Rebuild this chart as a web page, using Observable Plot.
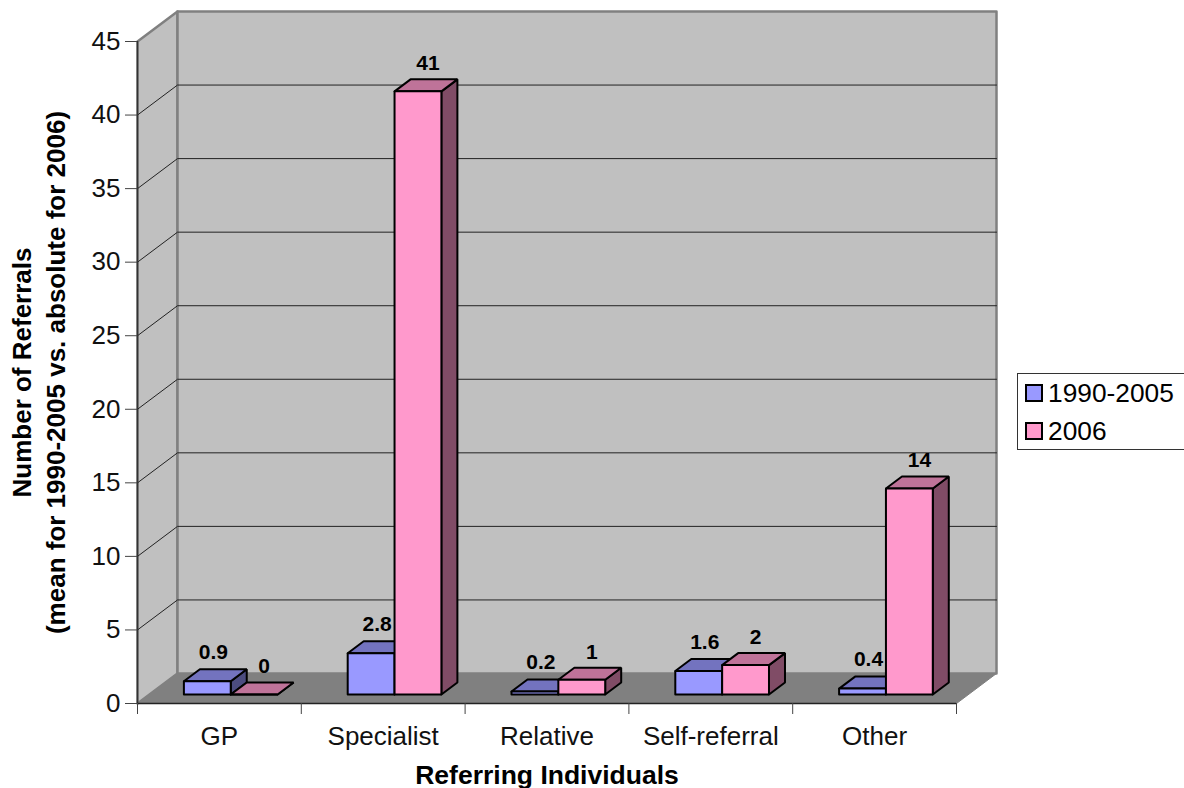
<!DOCTYPE html>
<html>
<head>
<meta charset="utf-8">
<script src="https://cdn.jsdelivr.net/npm/d3@7"></script>
<script src="https://cdn.jsdelivr.net/npm/@observablehq/plot@0.6"></script>
<style>
  html, body { margin: 0; background: #fff; }
  #chart { position: relative; width: 1184px; height: 788px; font-family: "Liberation Sans", Arial, sans-serif; overflow: hidden; }
  #chart svg { display: block; overflow: visible; }
  #legend { position: absolute; left: 1017px; top: 373px; width: 172px; height: 75px; border: 1px solid #333; background: #fff; box-sizing: content-box; font-size: 26.3px; color: #000; }
  #legend .row { position: absolute; left: 7px; display: flex; align-items: center; height: 20px; line-height: 20px; }
  #legend .sw { width: 14px; height: 14px; border: 2px solid #000; margin-right: 5px; }
</style>
</head>
<body>
<div id="chart"></div>
<script>
// Referrals by referring individual
const categories = ["GP", "Specialist", "Relative", "Self-referral", "Other"];
const seriesNames = ["1990-2005", "2006"];
const meanReferrals = [0.9, 2.8, 0.2, 1.6, 0.4];
const referrals2006 = [0, 41, 1, 2, 14];
const yTicks = [0, 5, 10, 15, 20, 25, 30, 35, 40, 45];
const seriesValues = [meanReferrals, referrals2006];

// Face colours of each series: front, top, side
const palette = [
  {front: "#9999FF", top: "#7373BF", side: "#4C4C80"},
  {front: "#FF99CC", top: "#BF7399", side: "#804C66"}
];

// Oblique projection: depth d in [0, 1] shifts a point towards the back wall,
// expressed in category units (x) and value units (y).
const depthX = 40 / 163.8;
const depthY = 30 / 14.71;
const project = (u, v, d) => ({x: u + d * depthX, y: v + d * depthY});

// Every face is a closed polygon fed to a filled line mark
const polygon = (id, corners) =>
  [...corners, corners[0]].map(([u, v, d]) => ({id, ...project(u, v, d)}));

const walls = [
  ...polygon("left", [[0, 0, 0], [0, 0, 1], [0, 45, 1], [0, 45, 0]]),
  ...polygon("back", [[0, 0, 1], [5, 0, 1], [5, 45, 1], [0, 45, 1]])
];
const floor = polygon("floor", [[0, 0, 0], [5, 0, 0], [5, 0, 1], [0, 0, 1]]);

const gridlines = yTicks.slice(1, -1).flatMap((v) =>
  [[5, v, 1], [0, v, 1], [0, v, 0]].map(([u, w, d]) => ({id: v, ...project(u, w, d)}))
);

// Bars occupy the middle of the floor's depth and of each category's width
const barWidth = 0.286;
const barGap = 0.21;
const depthFront = 0.3;
const depthBack = 0.7;

const faces = [];
const labels = [];
categories.forEach((name, i) => {
  seriesValues.forEach((values, s) => {
    const v = values[i];
    const u0 = i + barGap + s * barWidth;
    const u1 = u0 + barWidth;
    const key = `${i}-${s}`;
    const [f, b] = [depthFront, depthBack];
    const add = (face, corners) =>
      polygon(`${key}-${face}`, corners).forEach((p) => faces.push({...p, color: palette[s][face]}));
    add("side", [[u1, 0, f], [u1, 0, b], [u1, v, b], [u1, v, f]]);
    add("top", [[u0, v, f], [u1, v, f], [u1, v, b], [u0, v, b]]);
    add("front", [[u0, 0, f], [u1, 0, f], [u1, v, f], [u0, v, f]]);
    labels.push({...project((u0 + u1) / 2, v, depthBack), value: v, series: s});
  });
});

const svg = Plot.plot({
  width: 1184,
  height: 788,
  marginLeft: 137,
  marginRight: 228,
  marginTop: 41,
  marginBottom: 85,
  style: {background: "transparent", fontFamily: "'Liberation Sans', Arial, sans-serif", color: "#000"},
  x: {domain: [0, 5], axis: null},
  y: {domain: [0, 45], axis: null},
  marks: [
    Plot.line(walls, {x: "x", y: "y", z: "id", fill: "#C0C0C0", stroke: "#808080", strokeWidth: 2.5, curve: "linear"}),
    Plot.line(floor, {x: "x", y: "y", z: "id", fill: "#808080", stroke: "#808080", strokeWidth: 1, curve: "linear"}),
    Plot.line(gridlines, {x: "x", y: "y", z: "id", stroke: "#222", strokeWidth: 1, curve: "linear"}),
    Plot.ruleX([0], {y1: 0, y2: 45, stroke: "#333", strokeWidth: 1.5}),
    Plot.ruleY([0], {x1: 0, x2: 5, stroke: "#222", strokeWidth: 1.5}),
    Plot.line(faces, {x: "x", y: "y", z: "id", fill: "color", stroke: "#000", strokeWidth: 2, strokeLinejoin: "miter", curve: "linear"}),
    Plot.axisY({ticks: yTicks, tickSize: 12, tickPadding: 5, fontSize: 26, label: null, stroke: "#444", fill: "#111"}),
    Plot.axisX({ticks: d3.range(6), tickSize: 11, tickFormat: () => "", label: null, stroke: "#444"}),
    Plot.axisX({ticks: categories.map((_, i) => i + 0.5), tickSize: 0, tickPadding: 23, fontSize: 26, fill: "#111", tickFormat: (t) => categories[Math.floor(t)], label: null}),
    Plot.text(labels.filter((d) => d.series === 0), {x: "x", y: "y", text: "value", dx: -10, dy: -17, fontSize: 21, fontWeight: "bold", fill: "#000"}),
    Plot.text(labels.filter((d) => d.series === 1), {x: "x", y: "y", text: "value", dx: -6, dy: -16, fontSize: 21, fontWeight: "bold", fill: "#000"}),
    Plot.text(["Referring Individuals"], {frameAnchor: "bottom", textAnchor: "middle", dy: 80, fontSize: 26.5, fontWeight: "bold", fill: "#000"}),
    Plot.text(["Number of Referrals\n(mean for 1990-2005 vs. absolute for 2006)"], {frameAnchor: "left", textAnchor: "middle", rotate: -90, dx: -100, fontSize: 26, fontWeight: "bold", lineHeight: 1.3, fill: "#000"})
  ]
});

const chart = document.getElementById("chart");
chart.append(svg);

// Series key to the right of the plot
const legend = document.createElement("div");
legend.id = "legend";
seriesNames.forEach((name, s) => {
  const row = document.createElement("div");
  row.className = "row";
  row.style.top = `${9 + s * 38}px`;
  const swatch = document.createElement("span");
  swatch.className = "sw";
  swatch.style.background = palette[s].front;
  const text = document.createElement("span");
  text.textContent = name;
  row.append(swatch, text);
  legend.append(row);
});
chart.append(legend);
</script>
</body>
</html>
